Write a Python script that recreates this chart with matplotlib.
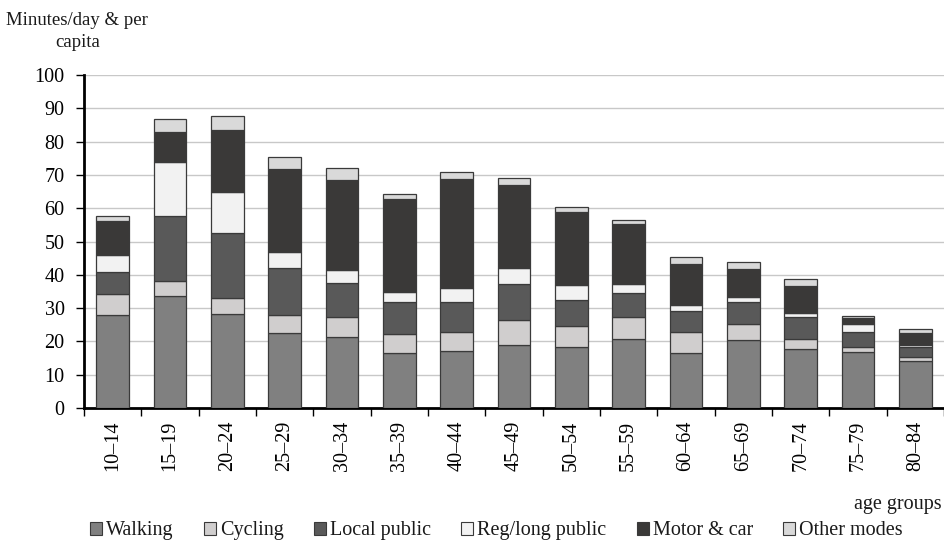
import numpy as np
import matplotlib
matplotlib.use("Agg")
from matplotlib import pyplot as plt
from matplotlib.patches import Patch

# Data: minutes/day per capita by age group and mode
age_groups = ["10–14", "15–19", "20–24", "25–29", "30–34", "35–39", "40–44", "45–49",
              "50–54", "55–59", "60–64", "65–69", "70–74", "75–79", "80–84"]
walking     = [27.9, 33.5, 28.1, 22.4, 21.2, 16.4, 17.1, 18.9, 18.2, 20.7, 16.4, 20.4, 17.7, 16.7, 14.0]
cycling     = [6.2, 4.7, 4.8, 5.6, 6.2, 5.7, 5.6, 7.4, 6.4, 6.7, 6.5, 4.7, 2.9, 1.7, 1.2]
local_pub   = [6.6, 19.4, 19.7, 14.0, 10.1, 9.8, 9.0, 10.8, 7.8, 7.1, 6.2, 6.6, 6.7, 4.4, 3.0]
reg_pub     = [5.4, 16.4, 12.4, 4.9, 4.0, 3.0, 4.3, 4.9, 4.4, 2.8, 1.7, 1.7, 1.3, 2.3, 0.7]
motor_car   = [10.2, 8.8, 18.4, 24.8, 26.9, 27.8, 32.8, 24.9, 22.0, 18.0, 12.4, 8.3, 7.9, 2.0, 3.7]
other_modes = [1.5, 3.9, 4.3, 3.6, 3.7, 1.5, 2.0, 2.1, 1.7, 1.2, 2.1, 2.1, 2.1, 0.4, 1.0]

series = [("Walking", walking, "#808080"),
          ("Cycling", cycling, "#d0cece"),
          ("Local public", local_pub, "#595959"),
          ("Reg/long public", reg_pub, "#f2f2f2"),
          ("Motor & car", motor_car, "#3a3938"),
          ("Other modes", other_modes, "#d9d9d9")]

plt.rcParams["font.family"] = ["Liberation Serif", "DejaVu Serif"]
plt.rcParams["font.size"] = 14.5
plt.rcParams["text.color"] = "#1a1a1a"

fig = plt.figure(figsize=(9.44, 5.44), dpi=100)
ax = fig.add_axes([0.089, 0.25, 0.911, 0.612])

x = np.arange(len(age_groups))
bottom = np.zeros(len(age_groups))
for name, vals, col in series:
    ax.bar(x, vals, width=0.57, bottom=bottom, color=col, edgecolor="#3a3a3a",
           linewidth=0.9, label=name, zorder=3)
    bottom += np.array(vals)

# Axes styling
ax.set_xlim(-0.5, len(age_groups) - 0.5)
ax.set_ylim(0, 100)
ax.set_yticks(np.arange(0, 101, 10))
ax.yaxis.grid(True, color="#c8c8c8", linewidth=1.0, zorder=0)
ax.set_axisbelow(True)
for side in ["top", "right"]:
    ax.spines[side].set_visible(False)
for side in ["left", "bottom"]:
    ax.spines[side].set_linewidth(2.0)
    ax.spines[side].set_color("black")

ax.set_xticks(x)
ax.set_xticklabels(age_groups, rotation=90)
ax.tick_params(axis="x", which="major", length=0, pad=9)
ax.set_xticks(np.arange(-0.5, len(age_groups), 1.0), minor=True)
ax.tick_params(axis="x", which="minor", length=6, width=1.0, direction="out")
ax.tick_params(axis="y", length=6, width=1.0, direction="out", pad=8)

# Titles and labels
fig.text(0.082, 0.963, "Minutes/day & per", ha="center", va="center", fontsize=13.5)
fig.text(0.082, 0.922, "capita", ha="center", va="center", fontsize=13.5)
fig.text(0.997, 0.073, "age groups", ha="right", va="center")

handles = [Patch(facecolor=col, edgecolor="#3a3a3a", linewidth=0.8, label=name)
           for name, vals, col in series]
fig.legend(handles=handles, loc="center", bbox_to_anchor=(0.526, 0.024), ncol=6,
           frameon=False, handlelength=0.6, handleheight=0.6, handletextpad=0.2,
           columnspacing=1.5, borderpad=0.1)

fig.savefig("out.png", dpi=100)
